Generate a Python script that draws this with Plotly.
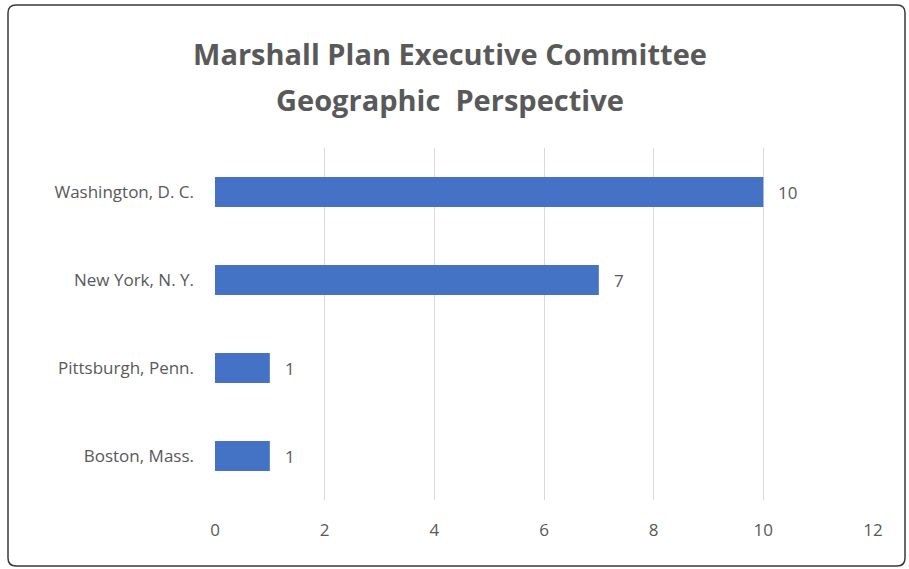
import plotly.graph_objects as go

categories = ["Washington, D. C.", "New York, N. Y.", "Pittsburgh, Penn.", "Boston, Mass."]
values = [10, 7, 1, 1]
x_ticks = [0, 2, 4, 6, 8, 10, 12]
title_lines = ["Marshall Plan Executive Committee", "Geographic  Perspective"]

FONT = "Open Sans"
GRAY = "#595959"
W, H = 909, 569
L, R, T, B = 215, 36, 148, 69
PW, PH = W - L - R, H - T - B

fig = go.Figure()
fig.add_trace(go.Bar(
    x=values, y=categories, orientation="h",
    marker=dict(color="#4472C4", line=dict(width=0)),
    width=0.34, hoverinfo="skip",
))

for c, v in zip(categories, values):
    fig.add_annotation(x=v, y=c, xref="x", yref="y", text=str(v), showarrow=False,
                       xanchor="left", xshift=13, font=dict(family=FONT, size=17, color=GRAY))

# pixel -> paper coordinates (paper is relative to plot area)
def px(x): return (x - L) / PW
def py(y): return (H - B - y) / PH

x0, x1, y0, y1, r = 8, 905, 5, 566, 8
path = (f"M {px(x0+r)},{py(y0)} L {px(x1-r)},{py(y0)} Q {px(x1)},{py(y0)} {px(x1)},{py(y0+r)} "
        f"L {px(x1)},{py(y1-r)} Q {px(x1)},{py(y1)} {px(x1-r)},{py(y1)} "
        f"L {px(x0+r)},{py(y1)} Q {px(x0)},{py(y1)} {px(x0)},{py(y1-r)} "
        f"L {px(x0)},{py(y0+r)} Q {px(x0)},{py(y0)} {px(x0+r)},{py(y0)} Z")
fig.add_shape(type="path", path=path, xref="paper", yref="paper",
              line=dict(color="#3a3a3a", width=1.5), layer="above")

fig.add_annotation(text=f"<b>{title_lines[1]}</b>", xref="paper", yref="paper",
                   x=px(450), y=py(100), xanchor="center", yanchor="middle", showarrow=False,
                   font=dict(family=FONT, size=29, color=GRAY))

fig.update_layout(
    width=W, height=H,
    margin=dict(l=L, r=R, t=T, b=B),
    paper_bgcolor="white", plot_bgcolor="white",
    showlegend=False,
    title=dict(text=f"<b>{title_lines[0]}</b>",
               x=450 / W, xanchor="center", y=1 - 55 / H, yanchor="middle",
               font=dict(family=FONT, size=29, color=GRAY)),
    xaxis=dict(range=[0, 12], tickvals=x_ticks, showgrid=True, gridcolor="#d9d9d9", gridwidth=1,
               zeroline=False, showline=False, ticks="", ticklabelstandoff=18,
               tickfont=dict(family=FONT, size=17, color=GRAY)),
    yaxis=dict(categoryorder="array", categoryarray=categories[::-1], showgrid=False,
               zeroline=False, showline=False, ticks="", ticklabelstandoff=20,
               tickfont=dict(family=FONT, size=17, color=GRAY)),
)

fig.write_html("out.html", config={"displayModeBar": False},
               post_script="document.body.style.margin='0';")
